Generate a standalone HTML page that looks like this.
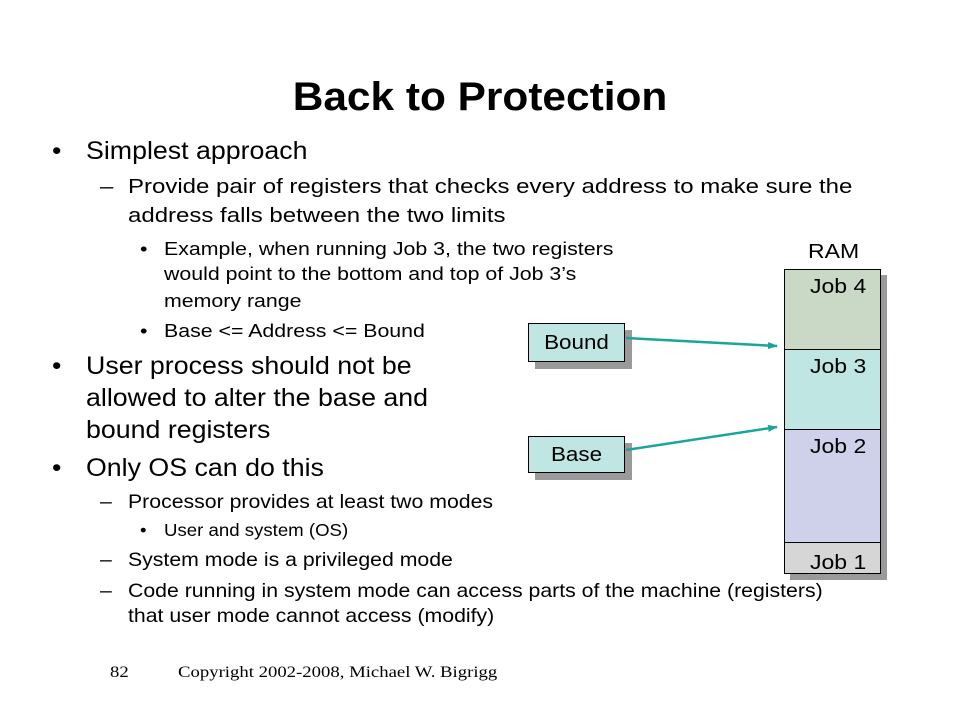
<!DOCTYPE html>
<html><head><meta charset="utf-8"><style>
body{margin:0;width:960px;height:720px;background:#fff;position:relative;overflow:hidden;font-family:"Liberation Sans",Arial,sans-serif;color:#000}
.t{position:absolute;white-space:nowrap;transform-origin:0 50%}
.l1{font-size:25px;line-height:24px;transform:scaleX(1.07)}
.l2{font-size:20px;line-height:20px;transform:scaleX(1.2)}
.l3{font-size:18px;line-height:18px;transform:scaleX(1.185)}
.m2{font-size:19.5px;line-height:20px;transform:scaleX(1.09)}
.m3{font-size:17.5px;line-height:18px;transform:scaleX(1.064)}
.j{font-size:20px;transform:scaleX(1.15)}
.box{position:absolute;border:1px solid #000;box-sizing:border-box}
.sh{position:absolute;background:#9a9a9a}
</style></head><body>
<div class="t" style="left:0;width:960px;text-align:center;top:76px;font-size:40px;font-weight:bold;line-height:42px;transform-origin:50% 50%;transform:scaleX(1.06)">Back to Protection</div>

<div class="t l1" style="left:52px;top:139px">•</div>
<div class="t l1" style="left:86px;top:139px">Simplest approach</div>
<div class="t l2" style="left:100px;top:177px">–</div>
<div class="t l2" style="left:128px;top:177px">Provide pair of registers that checks every address to make sure the</div>
<div class="t l2" style="left:128px;top:206px">address falls between the two limits</div>
<div class="t l3" style="left:140px;top:240px">•</div>
<div class="t l3" style="left:164px;top:240px">Example, when running Job 3, the two registers</div>
<div class="t l3" style="left:164px;top:265px">would point to the bottom and top of Job 3’s</div>
<div class="t l3" style="left:164px;top:292px">memory range</div>
<div class="t l3" style="left:140px;top:322px">•</div>
<div class="t l3" style="left:164px;top:322px">Base &lt;= Address &lt;= Bound</div>
<div class="t l1" style="left:52px;top:354px">•</div>
<div class="t l1" style="left:86px;top:354px">User process should not be</div>
<div class="t l1" style="left:86px;top:386px">allowed to alter the base and</div>
<div class="t l1" style="left:86px;top:418px">bound registers</div>
<div class="t l1" style="left:52px;top:456px">•</div>
<div class="t l1" style="left:86px;top:456px">Only OS can do this</div>
<div class="t m2" style="left:100px;top:492px">–</div>
<div class="t m2" style="left:128px;top:492px">Processor provides at least two modes</div>
<div class="t m3" style="left:140px;top:521px">•</div>
<div class="t m3" style="left:164px;top:521px">User and system (OS)</div>
<div class="t m2" style="left:100px;top:550px">–</div>
<div class="t m2" style="left:128px;top:550px">System mode is a privileged mode</div>
<div class="t m2" style="left:100px;top:581px">–</div>
<div class="t m2" style="left:128px;top:581px">Code running in system mode can access parts of the machine (registers)</div>
<div class="t m2" style="left:128px;top:606px">that user mode cannot access (modify)</div>

<div class="t" style="left:110px;top:664px;font-family:'Liberation Serif',serif;font-size:16px;transform:scaleX(1.17)">82</div>
<div class="t" style="left:178px;top:664px;font-family:'Liberation Serif',serif;font-size:16px;transform:scaleX(1.17)">Copyright 2002-2008, Michael W. Bigrigg</div>

<!-- RAM -->
<div class="sh" style="left:790px;top:275px;width:97px;height:305px"></div>
<div class="box" style="left:784px;top:269px;width:97px;height:81px;background:#c9d9c6"></div>
<div class="box" style="left:784px;top:349px;width:97px;height:81px;background:#bfe6e2"></div>
<div class="box" style="left:784px;top:429px;width:97px;height:114px;background:#cfd0ea"></div>
<div class="box" style="left:784px;top:542px;width:97px;height:32px;background:#d6d6d6"></div>
<div class="t j" style="left:808px;top:241px">RAM</div>
<div class="t j" style="left:810px;top:276px">Job 4</div>
<div class="t j" style="left:810px;top:356px">Job 3</div>
<div class="t j" style="left:810px;top:436px">Job 2</div>
<div class="t j" style="left:810px;top:552px">Job 1</div>

<!-- registers -->
<div class="sh" style="left:535px;top:330px;width:97px;height:39px"></div>
<div class="box" style="left:528px;top:323px;width:97px;height:39px;background:#bfe6e2"></div>
<div class="t" style="left:528px;top:332px;width:97px;text-align:center;font-size:20px;transform-origin:50% 50%;transform:scaleX(1.12)">Bound</div>
<div class="sh" style="left:535px;top:443px;width:97px;height:37px"></div>
<div class="box" style="left:528px;top:436px;width:97px;height:37px;background:#bfe6e2"></div>
<div class="t" style="left:528px;top:444px;width:97px;text-align:center;font-size:20px;transform-origin:50% 50%;transform:scaleX(1.12)">Base</div>

<svg width="960" height="720" style="position:absolute;left:0;top:0">
<defs><marker id="a" markerWidth="10" markerHeight="7" refX="9" refY="3.5" orient="auto" markerUnits="userSpaceOnUse"><path d="M0,0L10,3.5L0,7z" fill="#1aa59a"/></marker></defs>
<line x1="626" y1="338" x2="777" y2="346" stroke="#1aa59a" stroke-width="2.5" marker-end="url(#a)"/>
<line x1="626" y1="450" x2="777" y2="427" stroke="#1aa59a" stroke-width="2.5" marker-end="url(#a)"/>
</svg>
</body></html>
